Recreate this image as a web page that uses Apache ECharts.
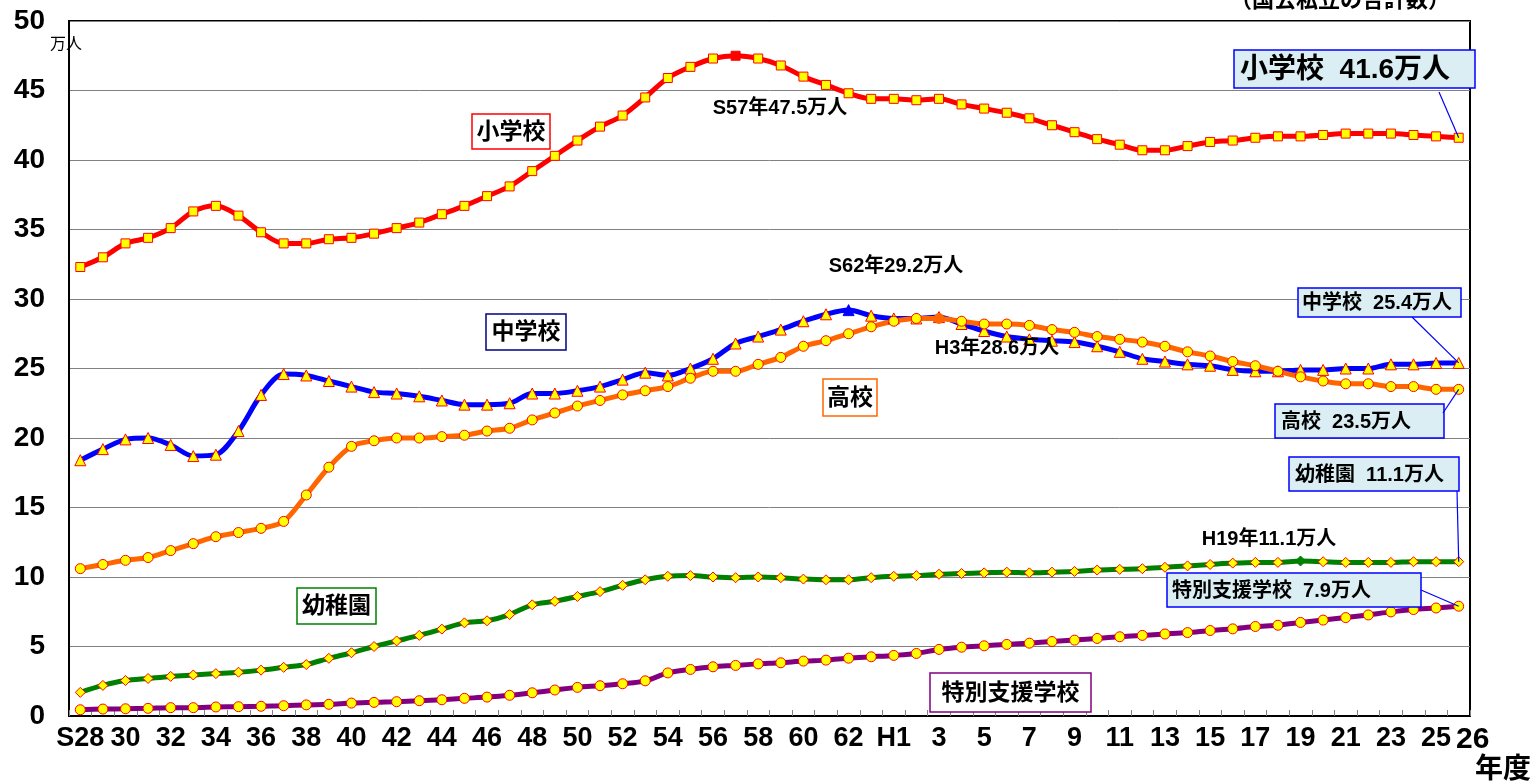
<!DOCTYPE html>
<html><head><meta charset="utf-8">
<script src="https://cdn.jsdelivr.net/npm/echarts@6/dist/echarts.min.js"></script>
<style>html,body{margin:0;padding:0;background:#fff}#c{width:1538px;height:783px}</style>
</head><body><div id="c"></div><script>
const categories = ['S28','29','30','31','32','33','34','35','36','37','38','39','40','41','42','43','44','45','46','47','48','49','50','51','52','53','54','55','56','57','58','59','60','61','62','63',
  'H1','2','3','4','5','6','7','8','9','10','11','12','13','14','15','16','17','18','19','20','21','22','23','24','25','26'];
const elementary = [32.3,33.0,34.0,34.4,35.1,36.3,36.7,36.0,34.8,34.0, 34.0,34.3,34.4,34.7,35.1,35.5,36.1,36.7,37.4,38.1,
  39.2,40.3,41.4,42.4,43.2,44.5,45.9,46.7,47.3,47.5, 47.3,46.8,46.0,45.4,44.8,44.4,44.4,44.3,44.4,44.0,
  43.7,43.4,43.0,42.5,42.0,41.5,41.1,40.7,40.7,41.0, 41.3,41.4,41.6,41.7,41.7,41.8,41.9,41.9,41.9,41.8, 41.7,41.6];
const juniorHigh = [18.4,19.2,19.9,20.0,19.5,18.7,18.8,20.5,23.1,24.6, 24.5,24.1,23.7,23.3,23.2,23.0,22.7,22.4,22.4,22.5,
  23.2,23.2,23.4,23.7,24.2,24.7,24.5,25.0,25.7,26.8, 27.3,27.8,28.4,28.9,29.2,28.8,28.6,28.6,28.7,28.2,
  27.7,27.3,27.1,27.0,26.9,26.6,26.2,25.7,25.5,25.3, 25.2,24.9,24.8,24.8,24.9,24.9,25.0,25.0,25.3,25.3, 25.4,25.4];
const highSchool = [10.6,10.9,11.2,11.4,11.9,12.4,12.9,13.2,13.5,14.0, 15.9,17.9,19.4,19.8,20.0,20.0,20.1,20.2,20.5,20.7,
  21.3,21.8,22.3,22.7,23.1,23.4,23.7,24.3,24.8,24.8, 25.3,25.8,26.6,27.0,27.5,28.0,28.4,28.6,28.6,28.4,
  28.2,28.2,28.1,27.8,27.6,27.3,27.1,26.9,26.6,26.2, 25.9,25.5,25.2,24.8,24.4,24.1,23.9,23.9,23.7,23.7, 23.5,23.5];
const kindergarten = [1.7,2.2,2.55,2.7,2.85,2.95,3.05,3.15,3.3,3.5, 3.7,4.15,4.55,5.0,5.4,5.8,6.25,6.7,6.85,7.3,
  8.0,8.25,8.6,8.95,9.4,9.8,10.05,10.1,10.0,9.95, 10.0,9.95,9.85,9.8,9.8,9.95,10.05,10.1,10.2,10.25,
  10.3,10.35,10.3,10.35,10.4,10.5,10.55,10.6,10.7,10.8, 10.9,11.0,11.05,11.05,11.15,11.1,11.05,11.05,11.05,11.1, 11.1,11.1];
const specialSupport = [0.45,0.5,0.52,0.55,0.6,0.6,0.65,0.67,0.7,0.74, 0.8,0.84,0.93,0.98,1.03,1.1,1.17,1.27,1.36,1.49,
  1.67,1.87,2.06,2.18,2.32,2.53,3.1,3.35,3.54,3.64, 3.75,3.83,3.95,4.02,4.16,4.26,4.36,4.5,4.79,4.95,
  5.05,5.15,5.24,5.36,5.46,5.58,5.7,5.8,5.9,6.0, 6.15,6.27,6.44,6.53,6.73,6.9,7.08,7.27,7.49,7.66, 7.77,7.9];
const seriesNames = ['小学校','中学校','高校','幼稚園','特別支援学校'];
const peakIndex = [29, 34, 38, 54, -1];
const yTicks = {min: 0, max: 50, interval: 5};

const FONT = "'Liberation Sans','Noto Sans CJK JP',sans-serif";
const chart = echarts.init(document.getElementById('c'), null, {renderer: 'canvas'});

function mkSeries(k, data, color, symbol, size) {
  return {
    name: seriesNames[k], type: 'line', smooth: 0.3, symbol: symbol, symbolSize: size,
    data: data.map((v, i) => i === peakIndex[k] ? {value: v, itemStyle: {color: color, borderColor: color}} : v),
    lineStyle: {color: color, width: 5},
    itemStyle: {color: '#FFFF00', borderColor: '#FF0000', borderWidth: 1},
    emphasis: {disabled: true}, animation: false
  };
}

chart.setOption({
  animation: false,
  grid: {left: 69, right: 68, top: 21, bottom: 67, show: true, borderColor: '#000', borderWidth: 2, backgroundColor: 'transparent'},
  xAxis: {
    type: 'category', data: categories, boundaryGap: true,
    axisLine: {lineStyle: {color: '#000', width: 2}},
    axisTick: {show: true, inside: true, length: 6, interval: 0, lineStyle: {color: '#808080', width: 1}},
    axisLabel: {
      interval: (i) => i % 2 === 0 || i === categories.length - 1,
      color: '#000', fontSize: 27, fontWeight: 'bold', fontFamily: FONT, margin: 9,
      formatter: (v, i) => i === categories.length - 1 ? '{big|' + v + '}' : v,
      rich: {big: {fontSize: 30, fontWeight: 'bold', fontFamily: FONT, color: '#000', padding: [0, 0, 3, 28]}}
    }
  },
  yAxis: {
    type: 'value', min: yTicks.min, max: yTicks.max, interval: yTicks.interval,
    axisLine: {show: true, lineStyle: {color: '#000', width: 2}},
    axisTick: {show: false},
    splitLine: {lineStyle: {color: '#808080', width: 1}},
    axisLabel: {color: '#000', fontSize: 28, fontWeight: 'bold', fontFamily: FONT, margin: 24}
  },
  series: [
    mkSeries(0, elementary, '#FF0000', 'rect', 9),
    mkSeries(1, juniorHigh, '#0000FF', 'triangle', 11),
    mkSeries(2, highSchool, '#FF6600', 'circle', 10),
    mkSeries(3, kindergarten, '#008000', 'diamond', 10),
    mkSeries(4, specialSupport, '#800080', 'circle', 10)
  ]
});

function txt(x, y, text, size, weight, align) {
  return {type: 'text', x: x, y: y, z: 101,
    style: {text: text, font: weight + ' ' + size + 'px ' + FONT, fill: '#000',
      align: align || 'center', textAlign: align || 'center', verticalAlign: 'middle', textVerticalAlign: 'middle'}};
}
function box(x, y, w, h, text, stroke, fill, size, pad) {
  const r = {type: 'rect', z: 100, shape: {x: x, y: y, width: w, height: h},
    style: {fill: fill, stroke: stroke, lineWidth: 1.5}};
  const t = pad == null ? txt(x + w / 2, y + h / 2 + 1, text, size, 'bold', 'center')
                        : txt(x + pad, y + h / 2 + 1, text, size, 'bold', 'left');
  return [r, t];
}
function leader(x, y, k, arr) {
  const p = chart.convertToPixel({seriesIndex: k}, [arr.length - 1, arr[arr.length - 1]]);
  return {type: 'line', z: 102, shape: {x1: x, y1: y, x2: p[0], y2: p[1]}, style: {stroke: '#0000FF', lineWidth: 1.2}};
}

const CB = '#DAEEF3', CS = '#0000FF';
const g = [].concat(
  box(472, 114, 78, 35, '小学校', '#FF0000', '#fff', 23),
  box(486, 314, 80, 36, '中学校', '#000080', '#fff', 23),
  box(823, 379, 54, 37, '高校', '#FF6600', '#fff', 23),
  box(297, 588, 79, 36, '幼稚園', '#008000', '#fff', 23),
  box(930, 673, 161, 39, '特別支援学校', '#800080', '#fff', 23),
  box(1234, 50, 241, 38, '小学校  41.6万人', CS, CB, 28, 6),
  box(1298, 288, 163, 29, '中学校  25.4万人', CS, CB, 20, 4),
  box(1275, 404, 169, 34, '高校  23.5万人', CS, CB, 20, 6),
  box(1289, 457, 170, 34, '幼稚園  11.1万人', CS, CB, 20, 6),
  box(1167, 573, 254, 34, '特別支援学校  7.9万人', CS, CB, 20, 5),
  [
    txt(780, 108, 'S57年47.5万人', 20, 'bold'),
    txt(896, 266, 'S62年29.2万人', 20, 'bold'),
    txt(997, 348, 'H3年28.6万人', 20, 'bold'),
    txt(1269, 539, 'H19年11.1万人', 20, 'bold'),
    txt(66, 45, '万人', 16, 'normal'),
    txt(1503, 770, '年度', 28, 'bold'),
    txt(1340, 1, '（国公私立の合計数）', 22, 'bold'),
    leader(1439, 92, 0, elementary),
    leader(1412, 317, 1, juniorHigh),
    leader(1443, 413, 2, highSchool),
    leader(1457, 491, 3, kindergarten),
    leader(1421, 590, 4, specialSupport)
  ]
);
chart.setOption({graphic: g});
</script></body></html>
